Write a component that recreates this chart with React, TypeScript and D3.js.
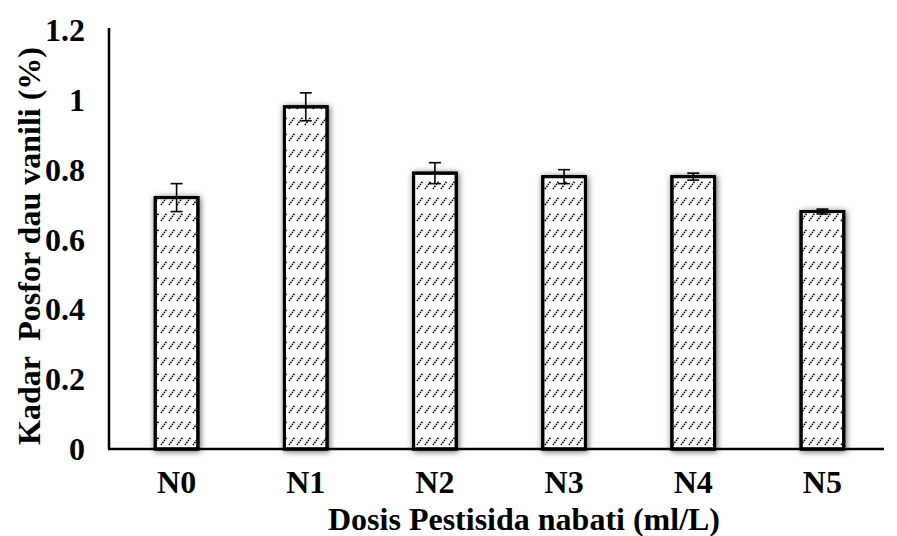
import * as d3 from 'd3';

const categories = ['N0', 'N1', 'N2', 'N3', 'N4', 'N5'];
const values = [0.72, 0.98, 0.79, 0.78, 0.78, 0.68];
const errors = [0.04, 0.04, 0.03, 0.02, 0.01, 0.007];
const yTicks = [0, 0.2, 0.4, 0.6, 0.8, 1, 1.2];

const W = 897;
const H = 536;
const left = 109;
const right = 884;
const top = 30;
const bottom = 449;
const font = '"Liberation Serif", "Times New Roman", serif';

export default function App() {
  // band range nudged right a little so bars sit where the reference has them
  const x = d3.scaleBand<string>()
    .domain(categories)
    .range([left + 3, right + 3])
    .paddingInner(0.67)
    .paddingOuter(0.335);

  const y = d3.scaleLinear().domain([0, 1.2]).range([bottom, top]);
  const bw = x.bandwidth();

  return (
    <svg width={W} height={H} style={{ position: 'absolute', left: 0, top: 0, background: '#fff' }}>
      <defs>
        <pattern id="dash" width="8" height="16" patternUnits="userSpaceOnUse">
          <line x1="1" y1="13" x2="7" y2="5" stroke="#000" strokeWidth="1.6" strokeDasharray="1.5 1" />
        </pattern>
        <filter id="shadow" x="-50%" y="-10%" width="200%" height="120%">
          <feDropShadow dx="1" dy="1" stdDeviation="3" floodColor="#000" floodOpacity="0.65" />
        </filter>
      </defs>

      {/* bars */}
      {categories.map((c, i) => (
        <g key={c}>
          <rect
            x={x(c)}
            y={y(values[i])}
            width={bw}
            height={y(0) - y(values[i])}
            fill="#fff"
            stroke="#000"
            strokeWidth={3}
            filter="url(#shadow)"
          />
          <rect
            x={x(c)}
            y={y(values[i])}
            width={bw}
            height={y(0) - y(values[i])}
            fill="url(#dash)"
            stroke="#000"
            strokeWidth={3}
          />
        </g>
      ))}

      {/* error bars */}
      {categories.map((c, i) => {
        const cx = (x(c) as number) + bw / 2;
        const hi = y(values[i] + errors[i]);
        const lo = y(values[i] - errors[i]);
        return (
          <g key={'e' + c} stroke="#000" strokeWidth={1.6}>
            <line x1={cx} x2={cx} y1={hi} y2={lo} />
            <line x1={cx - 6} x2={cx + 6} y1={hi} y2={hi} />
            <line x1={cx - 6} x2={cx + 6} y1={lo} y2={lo} />
          </g>
        );
      })}

      {/* axes */}
      <line x1={left} x2={left} y1={top - 2} y2={bottom} stroke="#000" strokeWidth={2.5} />
      <line x1={left - 1} x2={right} y1={bottom} y2={bottom} stroke="#000" strokeWidth={2.5} />

      {yTicks.map((t) => (
        <text
          key={t}
          x={85}
          y={y(t) + 11}
          textAnchor="end"
          fontFamily={font}
          fontWeight="bold"
          fontSize={32}
        >
          {d3.format('~g')(t)}
        </text>
      ))}

      {categories.map((c) => (
        <text
          key={'l' + c}
          x={(x(c) as number) + bw / 2}
          y={493}
          textAnchor="middle"
          fontFamily={font}
          fontWeight="bold"
          fontSize={32}
        >
          {c}
        </text>
      ))}

      <text x={524} y={530} textAnchor="middle" fontFamily={font} fontWeight="bold" fontSize={32}>
        Dosis Pestisida nabati (ml/L)
      </text>
      <text
        transform={`translate(40, 246) rotate(-90)`}
        textAnchor="middle"
        fontFamily={font}
        fontWeight="bold"
        fontSize={32}
        style={{ whiteSpace: 'pre' }}
      >
        {'Kadar  Posfor dau vanili (%)'}
      </text>
    </svg>
  );
}
